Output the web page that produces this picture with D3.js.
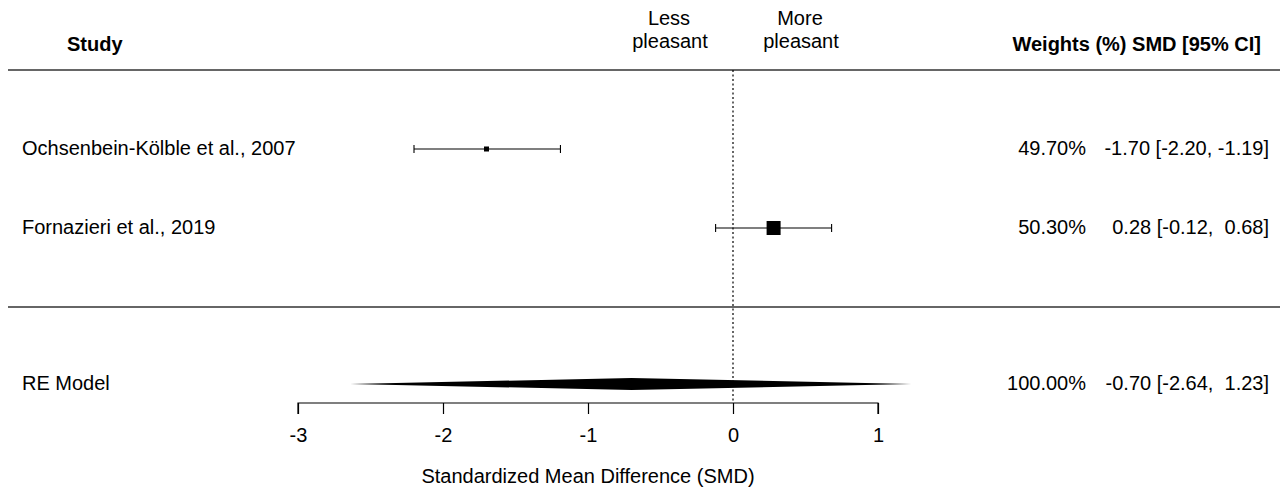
<!DOCTYPE html>
<html><head><meta charset="utf-8">
<script src="https://cdn.jsdelivr.net/npm/d3@7"></script>
<style>body{margin:0;background:#fff}text{font-family:"Liberation Sans",Arial,sans-serif;fill:#000;white-space:pre}</style>
</head><body>
<svg id="c" width="1280" height="492"></svg>
<script>
const studies = ["Ochsenbein-Kölble et al., 2007", "Fornazieri et al., 2019"];
const smd = [-1.70, 0.28];
const ciLow = [-2.20, -0.12];
const ciHigh = [-1.19, 0.68];
const weights = [49.70, 50.30];
const pooledLabel = "RE Model";
const pooledEst = -0.70, pooledLo = -2.64, pooledHi = 1.23, pooledWeight = 100.00;
const xTicks = [-3, -2, -1, 0, 1];

const svg = d3.select("#c");
const x = d3.scaleLinear().domain([-3, 1]).range([298, 878]);
const rowY = d3.scalePoint().domain(studies).range([149, 228]);
const fs = 20;
const rightEdge = 1269, headerEdge = 1261, weightEdge = 1086;

const fmt = v => d3.format(".2f")(v).replace("\u2212", "-");
const pad = (v, n) => fmt(v).padStart(n, " ");

// header
svg.append("text").attr("x", 67).attr("y", 51).attr("font-weight", "bold").attr("font-size", fs).text("Study");
svg.append("text").attr("x", headerEdge).attr("y", 51).attr("font-weight", "bold").attr("font-size", fs).attr("text-anchor", "end").text("Weights (%) SMD [95% CI]");
[["Less", 669, 25], ["pleasant", 670, 48], ["More", 800, 25], ["pleasant", 801, 48]].forEach(d => {
  svg.append("text").attr("x", d[1]).attr("y", d[2]).attr("font-size", fs).attr("text-anchor", "middle").text(d[0]);
});

// separators
svg.append("line").attr("x1", 8).attr("x2", 1280).attr("y1", 70).attr("y2", 70).attr("stroke", "#333").attr("stroke-width", 1.4);
svg.append("line").attr("x1", 8).attr("x2", 1280).attr("y1", 307).attr("y2", 307).attr("stroke", "#333").attr("stroke-width", 1.4);

// reference line
svg.append("line").attr("x1", x(0)).attr("x2", x(0)).attr("y1", 70).attr("y2", 403)
  .attr("stroke", "#000").attr("stroke-dasharray", "2,2.5").attr("stroke-width", 1.2);

studies.forEach((s, i) => {
  const y = rowY(s);
  svg.append("text").attr("x", 22).attr("y", y + 6).attr("font-size", fs).text(s);
  svg.append("line").attr("x1", x(ciLow[i])).attr("x2", x(ciHigh[i])).attr("y1", y).attr("y2", y).attr("stroke", "#000").attr("stroke-width", 1.1);
  [ciLow[i], ciHigh[i]].forEach(v => svg.append("line").attr("x1", x(v)).attr("x2", x(v)).attr("y1", y - 4).attr("y2", y + 4).attr("stroke", "#000").attr("stroke-width", 1.1));
  const sz = i === 0 ? 5 : 14;
  svg.append("rect").attr("x", x(smd[i]) - sz / 2).attr("y", y - sz / 2).attr("width", sz).attr("height", sz).attr("fill", "#000");
  svg.append("text").attr("x", weightEdge).attr("y", y + 6).attr("font-size", fs).attr("text-anchor", "end").text(fmt(weights[i]) + "%");
  svg.append("text").attr("x", rightEdge).attr("y", y + 6).attr("font-size", fs).attr("text-anchor", "end")
    .text(pad(smd[i], 5) + " [" + pad(ciLow[i], 5) + ", " + pad(ciHigh[i], 5) + "]");
});

// pooled
const py = 384;
svg.append("text").attr("x", 22).attr("y", py + 6).attr("font-size", fs).text(pooledLabel);
svg.append("path").attr("d", `M${x(pooledLo)},${py} L${x(pooledEst)},${py - 6} L${x(pooledHi)},${py} L${x(pooledEst)},${py + 6} Z`).attr("fill", "#000");
svg.append("text").attr("x", weightEdge).attr("y", py + 6).attr("font-size", fs).attr("text-anchor", "end").text(fmt(pooledWeight) + "%");
svg.append("text").attr("x", rightEdge).attr("y", py + 6).attr("font-size", fs).attr("text-anchor", "end")
  .text(pad(pooledEst, 5) + " [" + pad(pooledLo, 5) + ", " + pad(pooledHi, 5) + "]");

// axis
const ax = svg.append("g").attr("transform", "translate(0,403)")
  .call(d3.axisBottom(x).tickValues(xTicks).tickSize(11).tickPadding(14).tickFormat(d => String(d)));
ax.select(".domain").attr("d", `M${x(-3)},11V0H${x(1)}V11`).attr("stroke", "#000").attr("stroke-width", 1.2);
ax.selectAll("text").attr("font-size", fs).attr("font-family", "Liberation Sans, Arial, sans-serif").attr("fill", "#000");
ax.selectAll("line").attr("stroke", "#000").attr("stroke-width", 1.2);
svg.append("text").attr("x", x(-1)).attr("y", 483).attr("font-size", fs).attr("text-anchor", "middle").text("Standardized Mean Difference (SMD)");
</script>
</body></html>
